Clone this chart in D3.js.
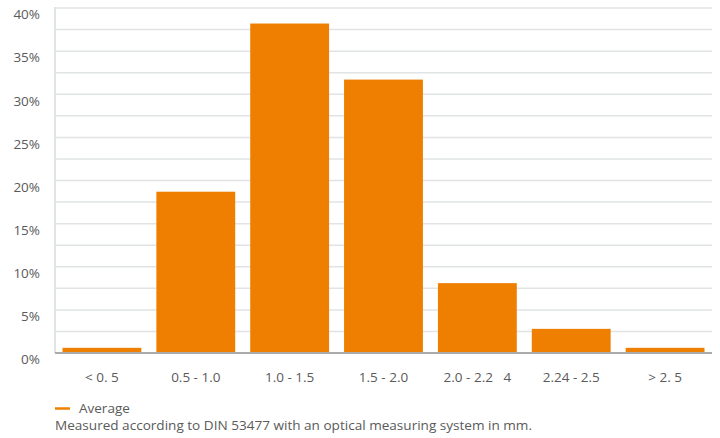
<!DOCTYPE html>
<html>
<head>
<meta charset="utf-8">
<script src="https://cdn.jsdelivr.net/npm/d3@7"></script>
<style>
  html, body { margin: 0; padding: 0; background: #fff; }
  svg { display: block; font-family: "Open Sans", "Noto Sans", sans-serif; }
</style>
</head>
<body>
<div id="chart"></div>
<script>
const categories = ["< 0. 5", "0.5 - 1.0", "1.0 - 1.5", "1.5 - 2.0", "2.0 - 2.2   4", "2.24 - 2.5", "> 2. 5"];
const averageValues = [0.6, 18.7, 38.2, 31.7, 8.1, 2.8, 0.6];
const yTickValues = [0, 5, 10, 15, 20, 25, 30, 35, 40];
const gridValues = d3.range(0, 40.1, 2.5);
const legendLabel = "Average";
const footnote = "Measured according to DIN 53477 with an optical measuring system in mm.";

const width = 720;
const height = 438;
const margin = { top: 8, right: 8, bottom: 85, left: 55 };
const chartWidth = width - margin.left - margin.right;
const chartHeight = height - margin.top - margin.bottom;
const orange = "#ee7f00";
const textColor = "#5a5a5a";

const svg = d3.select("#chart")
  .append("svg")
  .attr("width", width)
  .attr("height", height);

const g = svg.append("g")
  .attr("transform", `translate(${margin.left},${margin.top})`);

const x = d3.scaleBand()
  .domain(categories)
  .range([0, chartWidth])
  .paddingInner(0.16)
  .paddingOuter(0.08);

const y = d3.scaleLinear()
  .domain([0, 40])
  .range([chartHeight, 0]);

// gridlines every 2.5%
g.append("g")
  .selectAll("line")
  .data(gridValues.filter(d => d > 0))
  .enter().append("line")
  .attr("x1", 0)
  .attr("x2", chartWidth)
  .attr("y1", d => y(d))
  .attr("y2", d => y(d))
  .attr("stroke", "#e1e4e4")
  .attr("stroke-width", 1.5);

// left axis line
g.append("line")
  .attr("x1", 0).attr("x2", 0)
  .attr("y1", y(40) - 1).attr("y2", chartHeight)
  .attr("stroke", "#e1e4e4")
  .attr("stroke-width", 2);

// y labels (sit a bit below their gridline)
const yAxis = g.append("g")
  .call(d3.axisLeft(y).tickValues(yTickValues).tickSize(0).tickPadding(15).tickFormat(d => d + "%"));
yAxis.select(".domain").remove();
yAxis.selectAll("text")
  .attr("dy", "0.95em")
  .attr("y", -2)
  .style("font-size", "13.5px")
  .style("font-family", "'Open Sans', sans-serif")
  .style("fill", textColor);

// bars
g.selectAll(".bar")
  .data(averageValues)
  .enter().append("rect")
  .attr("class", "bar")
  .attr("x", (d, i) => x(categories[i]))
  .attr("width", x.bandwidth())
  .attr("y", d => y(d))
  .attr("height", d => chartHeight - y(d))
  .attr("fill", orange);

// baseline
g.append("line")
  .attr("x1", 0).attr("x2", chartWidth)
  .attr("y1", chartHeight).attr("y2", chartHeight)
  .attr("stroke", "#ababab")
  .attr("stroke-width", 2);

// x labels
const xAxis = g.append("g")
  .attr("transform", `translate(0,${chartHeight})`)
  .call(d3.axisBottom(x).tickSize(0).tickPadding(19));
xAxis.select(".domain").remove();
xAxis.selectAll("text")
  .style("font-size", "13.5px")
  .style("font-family", "'Open Sans', sans-serif")
  .style("fill", textColor)
  .style("white-space", "pre");

// legend
const legend = svg.append("g")
  .attr("transform", `translate(${margin.left},408.5)`);
legend.append("line")
  .attr("x1", 0).attr("x2", 15)
  .attr("stroke", orange)
  .attr("stroke-width", 2.5);
legend.append("text")
  .attr("x", 24)
  .attr("dy", "0.35em")
  .style("font-size", "13.5px")
  .style("fill", textColor)
  .text(legendLabel);

svg.append("text")
  .attr("x", margin.left)
  .attr("y", 425)
  .attr("dy", "0.35em")
  .attr("textLength", 477)
  .attr("lengthAdjust", "spacingAndGlyphs")
  .style("font-size", "13.5px")
  .style("fill", textColor)
  .text(footnote);
</script>
</body>
</html>
